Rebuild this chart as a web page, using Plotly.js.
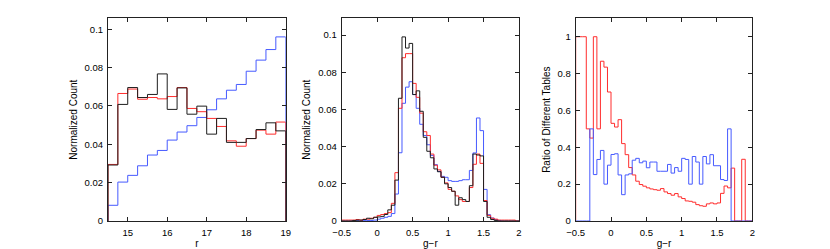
<!DOCTYPE html>
<html>
<head>
<meta charset="utf-8">
<script src="https://cdn.plot.ly/plotly-3.0.1.min.js"></script>
<style>html,body{margin:0;padding:0;background:#fff;}#chart{width:830px;height:249px;}</style>
</head>
<body>
<div id="chart"></div>
<script>
// ---------- Panel 1: r magnitude histograms (bins of 0.25 from 14.5 to 19) ----------
const rEdgeStart = 14.5;
const rBinWidth = 0.25;
const rBlue  = [0.0082,0.0203,0.0238,0.0288,0.0344,0.0368,0.0422,0.0464,0.0497,0.0540,0.0580,0.0637,0.0682,0.0712,0.0781,0.0839,0.0894,0.0960];
const rRed   = [0.0295,0.0665,0.0688,0.0635,0.0644,0.0637,0.0649,0.0696,0.0587,0.0570,0.0535,0.0493,0.0418,0.0390,0.0430,0.0474,0.0453,0.0516];
const rBlack = [0.0292,0.0608,0.0696,0.0644,0.0660,0.0767,0.0582,0.0694,0.0557,0.0599,0.0453,0.0535,0.0410,0.0410,0.0430,0.0477,0.0512,0.0470];

// ---------- Panel 2: g-r colour histograms (bins of 0.05 from -0.5 to 2) ----------
const grEdgeStart = -0.5;
const grBinWidth = 0.05;
const grRed = [0.0005,0.0005,0.0005,0.0005,0.0008,0.0005,0.0010,0.0010,0.0015,0.0020,
               0.0030,0.0035,0.0040,0.0045,0.0095,0.0260,0.0606,0.0878,0.0900,0.0900,
               0.0740,0.0665,0.0580,0.0480,0.0460,0.0360,0.0300,0.0275,0.0235,0.0205,
               0.0170,0.0160,0.0135,0.0115,0.0105,0.0105,0.0180,0.0305,0.0360,0.0310,
               0.0110,0.0030,0.0015,0.0010,0.0005,0.0005,0.0005,0.0005,0.0005,0.0000];
const grBlack = [0.0000,0.0000,0.0000,0.0003,0.0005,0.0005,0.0008,0.0015,0.0012,0.0020,
                 0.0022,0.0025,0.0035,0.0060,0.0085,0.0220,0.0660,0.0990,0.0930,0.0955,
                 0.0680,0.0700,0.0590,0.0450,0.0375,0.0340,0.0280,0.0265,0.0235,0.0200,
                 0.0180,0.0160,0.0085,0.0125,0.0115,0.0105,0.0190,0.0360,0.0355,0.0350,
                 0.0105,0.0020,0.0008,0.0003,0.0000,0.0000,0.0000,0.0000,0.0000,0.0000];
const grBlue = [0.0000,0.0000,0.0000,0.0000,0.0002,0.0002,0.0002,0.0003,0.0003,0.0005,
                0.0010,0.0015,0.0020,0.0025,0.0040,0.0145,0.0367,0.0633,0.0720,0.0749,
                0.0680,0.0606,0.0520,0.0460,0.0410,0.0353,0.0303,0.0267,0.0240,0.0235,
                0.0217,0.0213,0.0213,0.0217,0.0222,0.0222,0.0272,0.0366,0.0554,0.0486,
                0.0170,0.0034,0.0016,0.0008,0.0003,0.0000,0.0000,0.0000,0.0000,0.0000];

// ---------- Panel 3: ratio of different tables ----------
const ratioRed = [1.000,1.000,1.000,0.500,0.450,1.000,0.500,0.867,0.835,0.700,
                  0.530,0.510,0.550,0.420,0.360,0.290,0.250,0.216,0.198,0.189,
                  0.180,0.174,0.170,0.167,0.176,0.158,0.149,0.140,0.149,0.131,
                  0.122,0.109,0.107,0.102,0.089,0.083,0.080,0.093,0.098,0.093,
                  0.098,0.150,0.190,0.180,0.287,0.000,0.000,0.335,0.000,0.000];
const ratioBlue = [0.000,0.000,0.000,0.000,0.500,0.252,0.334,0.383,0.200,0.303,
                   0.361,0.365,0.250,0.143,0.250,0.256,0.330,0.340,0.316,0.325,
                   0.289,0.320,0.320,0.270,0.270,0.270,0.307,0.260,0.290,0.270,
                   0.340,0.334,0.200,0.350,0.320,0.200,0.350,0.310,0.360,0.300,
                   0.300,0.225,0.220,0.500,0.000,0.000,0.000,0.000,0.000,0.000];

// ---------- Tick labels ----------
const rTicks = [15,16,17,18,19];
const countTicks = [0,0.02,0.04,0.06,0.08,0.1];
const grTicks = [-0.5,0,0.5,1,1.5,2];
const ratioTicks = [0,0.2,0.4,0.6,0.8,1];

// build histogram outline (stairs) from bin start, width and values
function stairs(start, width, vals) {
  const x = [start], y = [0];
  for (let i = 0; i < vals.length; i++) { x.push(start + i * width); y.push(vals[i]); }
  x.push(start + vals.length * width); y.push(0);
  return {x, y};
}

const RED = 'rgb(255,45,45)';
const BLUE = 'rgb(70,90,255)';
const BLACK = 'rgb(30,30,30)';

function tr(s, color, xa, ya) {
  return {x: s.x, y: s.y, type: 'scatter', mode: 'lines', line: {shape: 'hv', color: color, width: 1},
          xaxis: xa, yaxis: ya, showlegend: false, hoverinfo: 'skip'};
}

const data = [
  tr(stairs(rEdgeStart, rBinWidth, rBlue), BLUE, 'x', 'y'),
  tr(stairs(rEdgeStart, rBinWidth, rRed), RED, 'x', 'y'),
  tr(stairs(rEdgeStart, rBinWidth, rBlack), BLACK, 'x', 'y'),
  tr(stairs(grEdgeStart, grBinWidth, grBlue), BLUE, 'x2', 'y2'),
  tr(stairs(grEdgeStart, grBinWidth, grRed), RED, 'x2', 'y2'),
  tr(stairs(grEdgeStart, grBinWidth, grBlack), BLACK, 'x2', 'y2'),
  tr(stairs(grEdgeStart, grBinWidth, ratioRed), RED, 'x3', 'y3'),
  tr(stairs(grEdgeStart, grBinWidth, ratioBlue), BLUE, 'x3', 'y3')
];

const tickFont = {family: 'Liberation Sans, Arial, sans-serif', size: 9.5, color: '#000'};
const titleFont = {family: 'Liberation Sans, Arial, sans-serif', size: 10, color: '#000'};
function ax(domain, range, tickvals, anchor, title, isY) {
  return {
    domain: domain, range: range, anchor: anchor, tickmode: 'array', tickvals: tickvals,
    ticktext: tickvals.map(v => String(v).replace('-', '\u2212')),
    ticks: 'inside', ticklen: 4, tickwidth: 1, tickcolor: '#222', mirror: 'allticks',
    showline: true, linecolor: '#222', linewidth: 1, showgrid: false, zeroline: false,
    ticklabelstandoff: isY ? 2 : 3,
    tickfont: tickFont, title: {text: title, font: titleFont, standoff: isY ? 5 : 3},
    fixedrange: true
  };
}

const yDom = [0.1124, 0.9265];
const layout = {
  width: 830, height: 249,
  margin: {l: 0, r: 0, t: 0, b: 0},
  paper_bgcolor: '#fff', plot_bgcolor: '#fff',
  xaxis:  ax([0.1301, 0.3442], [14.5, 19], rTicks, 'y', 'r', false),
  yaxis:  ax(yDom, [0, 0.1057], countTicks, 'x', 'Normalized Count', true),
  xaxis2: ax([0.4117, 0.6253], [-0.5, 2], grTicks, 'y2', 'g\u2212r', false),
  yaxis2: ax(yDom, [0, 0.109], countTicks, 'x2', 'Normalized Count', true),
  xaxis3: ax([0.6936, 0.9064], [-0.5, 2], grTicks, 'y3', 'g\u2212r', false),
  yaxis3: ax(yDom, [0, 1.1], ratioTicks, 'x3', 'Ratio of Different Tables', true)
};

Plotly.newPlot('chart', data, layout, {staticPlot: true, displayModeBar: false});
</script>
</body>
</html>
